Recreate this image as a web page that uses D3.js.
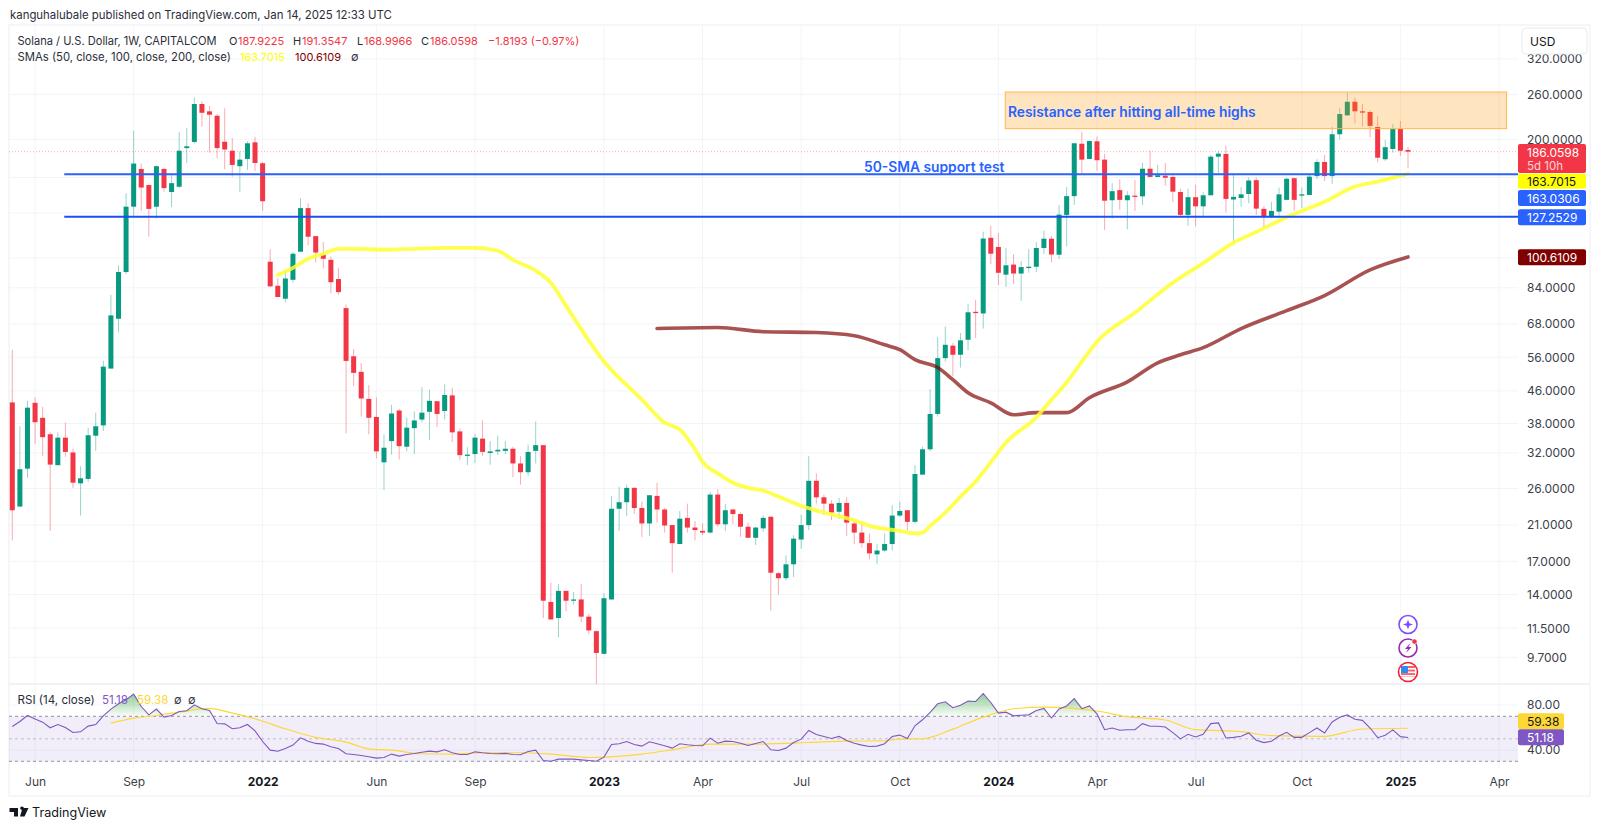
<!DOCTYPE html>
<html><head><meta charset="utf-8">
<script src="https://d3js.org/d3.v7.min.js"></script>
<style>
html,body{margin:0;padding:0;background:#fff}
svg{display:block}
text{font-family:Inter,"Noto Sans",sans-serif}
</style></head><body><div id="chart"></div>
<script>
const opens=[43.0,23.4,29.2,42.9,39.3,35.7,29.8,35.0,32.1,26.8,
27.5,35.4,37.6,52.4,70.1,92.1,134.9,168.2,153.1,134.9,
168.2,147,151.6,190,196.9,245.8,235.5,229.5,197.2,187.1,
170.9,178.3,196.5,173.9,97.8,85,78.8,88,103.7,133.8,
113.6,102,98.9,88.4,74.6,56.3,51.4,43.9,39.5,30.3,
34.3,41,33.2,37,38.9,40.7,43.3,40.9,44.8,36.3,
31.6,31.8,34.8,32,32.3,32.4,32.8,30.1,28.6,32.4,
33.5,13.4,12.2,14.3,13.5,13.6,12.3,11.3,9.9,13.6,
23.1,24,26.1,23.2,21.2,24.9,23,21,18.8,21.9,
20.7,20.3,20.1,25.1,21.1,23,22.4,20.8,19.5,20.6,
22.05,15.85,15.4,16.7,19.3,21,27.2,24.7,23.8,22.7,
23.9,21.2,20.1,18.9,17.7,18.1,18.8,22.2,22.9,21.4,
28.2,32.7,40.2,55.7,59.9,56.8,62,73,72.3,112.5,
106.6,90.7,96.2,91.3,94.3,95,106,111.9,101.9,128.6,
143.5,194.9,178.3,197.7,177.6,140.1,148.6,140.1,143.9,143.3,
168.4,160.5,161.7,160.5,147,128.6,142.6,135.2,144.2,180.7,
183.6,140.7,142,145.3,157.5,133.2,126.9,131.1,140.4,159.3,
144.5,144.5,161.3,175.2,161.3,206,230,249,235.5,234.6,
214.9,178,189,212.4,187.9225];
const highs=[58.5,37.4,43.4,44.3,41.9,36.1,36.1,38.2,32.8,29.6,
37.1,40.5,54.8,80.6,95.8,146,210.4,173.6,153.5,171.8,
169.5,162.4,209,213.4,255.6,249.7,243,231.8,239.8,201.3,
186.5,197.7,202.9,175.2,105.3,88.9,93.3,103.7,141.8,137.7,
113.8,109.7,100.9,94.4,76.2,58.7,54.1,47.6,44.3,35.7,
42.4,41.4,39.3,40.8,47,46.3,43.4,47.8,46.8,36.9,
33.1,35.8,38.7,34.3,35.4,34.3,33.2,31.4,33.6,38.5,
33.5,15,14.9,14.3,14.2,14.9,12.5,11.35,14.1,24.85,
26.3,26.6,26.2,24.1,25,26.9,23.2,21,22.8,23.8,
21.5,21.2,25.5,25.9,23.8,23.1,22.6,21.3,20.8,22.2,
22.1,15.95,17.6,19.8,22.3,31.4,28.4,25.1,24.3,24.6,
24.7,21.4,21.4,20,18.8,20,23.6,24.1,22.9,29.8,
33.2,46.5,62.9,67,60.8,64.5,76.5,78.3,116.6,120.7,
115.7,106,102.3,98.1,105.3,109.7,117.3,113.6,136.3,151.3,
196,208.9,198.4,203.1,183.6,154.8,158.4,147.7,157.8,174.5,
187.1,172.2,173.9,162.1,149.7,149.7,153.3,146.9,182.5,186.5,
192.8,162.4,151.3,160,160,135.4,138.8,150.9,160,160,
150.9,163.3,178,182.4,215,239.8,263,255.3,245.8,237.3,
228.6,199.2,218.7,222.6,191.3547];
const lows=[19.2,23.4,27.7,33.7,31.4,20.3,29.8,31.3,26.1,22.2,
27,32.4,36.4,52.4,64.8,91,127.2,131.6,113.2,125.8,
147.3,134.6,150.4,173.9,195.4,215.2,184.9,179.1,168,160.7,
147,167.2,166.2,131.8,84.5,79.6,77.1,86.6,103.7,107.6,
97.4,94.1,81.4,80.7,35.9,47.3,39.6,35.7,31,25.8,
31.7,30.8,32.3,31.8,38.3,34.5,37.2,38.9,34.1,30.7,
29.8,30.2,31.4,29.9,31.6,31.8,27.8,26.6,28,30.1,
12.2,12.1,10.9,12.7,13.2,11.9,11.1,8.3,9.85,13.6,
20.3,22.1,22.4,19.6,19.7,21.3,20.1,15.9,18.8,20.1,
19.2,19.8,20,20.8,20.3,21.1,19.6,19.5,18.7,20.2,
12.75,14,15.2,15.5,18.3,20.4,23.8,22.3,21.6,21.8,
19.7,18.8,18.4,17.2,16.7,18,18.1,22,20.4,21.2,
28.1,32.3,39.6,54.6,50.1,52.7,58.3,62.6,66.2,96.4,
85.4,84.4,85.9,77.9,91.8,92,102.3,97.4,99.3,106.9,
136.3,162.4,178.3,166.5,117.8,125.8,132.4,118.3,131.6,136.3,
160.5,160.5,152.6,138.8,127.8,120.7,120.2,127.2,144.2,163.6,
130.4,109.1,134.9,137.7,128.6,119.7,126.1,126.1,140,131.8,
133.8,144.5,158.4,156.9,154.2,200,229.7,219.6,215.2,202.3,
174.9,176.3,185,181.4,168.9966];
const closes=[22.9,29.1,41.7,38.3,35.1,29.9,35,32.2,26.9,27.6,
35.5,37.4,53,71.5,92.1,134.9,173.6,150.9,133.2,170.9,
150.4,154.8,187.1,192,245.8,233.5,230.9,190,188.4,172.2,
177.6,195.4,174.2,139.3,84.7,79.6,88.7,102.5,133.8,113.2,
103.2,99.5,86.8,81.9,54.8,51.1,44,39.3,32.3,33,
40.3,33.3,37.1,38.7,40.5,43.4,40.2,44.9,36.1,31.6,
31.7,35,32.2,32.3,32.6,32.8,30.1,28.6,32.2,33.5,
13.5,12.1,14.3,13.5,13.6,12.3,11.35,9.95,13.7,23.1,
24,26.1,23.2,21.2,25,23,20.95,18.9,21.8,20.7,
20.4,20.1,25.1,21.1,22.9,22.4,20.8,19.5,20.7,21.9,
15.9,15.4,16.7,19.4,21,27.2,24.7,23.8,22.6,23.9,
21.3,20.1,18.9,17.8,18.1,18.8,22.2,22.8,21.4,28.3,
32.7,40.2,55.7,60.2,56.8,61.8,72.8,72.6,112,102.5,
91.7,95.8,91.3,94.8,95,106,111.9,102,128.8,143.5,
195.4,177.6,198,177,139.7,147.7,140.4,144.2,143.3,168.4,
160.5,162.1,159.8,147.3,128.6,142.6,135.2,144.2,180.7,183.9,
141.2,142.9,145,157.2,133.4,127.2,131.6,145,158.8,140.4,
145,160.8,175.2,161.3,206,231.8,249,235.5,234.6,216.3,
179.6,191,212.4,187.1,186.0598];

const sma50Idx=[35,37,39,41,43,45,49,53,57,61,64,66,69,71,73,78,83,86,88,90,91,93,95,97,99,101,104,107,111,113,117,119,120,121,123,125,127,129,131,135,137,139,141,143,148,153,157,161,164,168,173,177,180,184];
const sma50Val=[90.6,94.4,99.5,102.5,105.5,105.5,104.9,105.5,106.1,106.1,104.3,98.9,92.8,86.5,75.6,54.6,43.7,38.2,36.7,32.7,30.4,28.4,26.9,26.1,25.7,24.8,23.5,22.6,21.6,20.9,20.3,20.0,20.1,20.9,22.6,24.8,27.1,30.3,34.0,39.4,43.7,48.3,54.6,61.3,72.6,86.5,97,109.3,116.4,126.9,138.8,151.8,156.2,163.7015];
const sma100Idx=[85,93,99,106,111,115,117,119,122,124,126,129,132,135,139,142,147,151,154,157,162,168,173,179,184];
const sma100Val=[66.2,66.6,65.0,64.7,63.5,60.2,58.5,55.2,52.7,49.1,45.5,42.9,40.0,40.5,40.5,44.2,48.5,54.2,56.8,59.2,66.2,73.5,80.3,93.3,100.6109];

const rsi=[61.0,65.4,70.7,67.5,64.8,59.8,62.7,60.1,55.6,56.2,61.3,62.7,70.4,76.4,81.1,84.7,89.7,78.7,71.3,76.4,
69.3,70.7,74.3,74.9,80.2,76.7,75.2,63.6,63.3,58.9,59.8,62.7,57.1,47.6,39.9,39.0,41.4,44.4,50.9,47.9,
45.9,45.3,42.9,41.4,36.7,36.1,35.2,34.0,32.8,33.4,36.4,34.6,36.1,37.0,38.1,39.0,38.4,40.2,37.6,36.1,
36.1,38.4,37.6,37.0,36.7,37.0,36.1,35.8,
38.7,39.9,30.7,30.1,31.9,31.9,31.9,31.3,30.7,30.1,33.7,45.0,45.6,47.6,45,43.5,47.3,45.6,43.8,41.7,45.6,44.7,
44.1,43.8,50.6,46.1,47.9,47.6,46.1,44.1,45.9,47.6,40.2,39.6,41.7,46.7,49.7,57.4,53.9,52.1,50.3,52.1,
48.5,46.1,44.4,43.2,43.5,45.6,52.1,53.3,50.3,61.6,66.9,73.4,81.1,82.9,77.6,79.9,83.5,83.2,90.3,82.3,
72.8,73.7,70.4,71,71.3,75.2,77,
68.5,76.5,79.2,85.7,76.8,79.2,72.1,58.1,59.6,57.6,58.1,58.1,63.5,61.1,61.1,60.5,55.5,49.9,54,51.6,54,63.5,64.1,50.7,51.3,52.2,55.2,48.7,46.6,47.8,52.5,55.8,51.3,51.3,55.5,59.6,55.2,65,69.1,71.2,67.3,66.4,59.6,51,53.1,57.9,51.9,51.18];
const rsiMaIdx=[13,16,19,22,26,29,32,36,40,44,47,50,54,58,62,67,71,76,83,87,92,98,105,110,115,117,120,124,128,132,136,143,147,152,156,162,166,173,178,184];
const rsiMaVal=[63.9,68.4,70.7,73.7,77,72.8,67.8,58.9,51.2,47.0,41.1,39.9,36.7,36.4,37.6,37.6,36.4,33.4,36.4,40.2,45.3,45.3,46.7,47.9,48.2,49.7,50,58.6,69.3,76.7,78.1,74.7,69.7,66.7,58.1,56.4,52.8,52.2,58.7,59.38];

const priceGridTicks=[320,260,200,160,130,100,84,68,56,46,38,32,26,21,17,14,11.5,9.7];
const priceLabelTicks=[320,260,200,84,68,56,46,38,32,26,21,17,14,11.5,9.7];
const rsiTicks=[80,40];
const rsiLevels=[70,50,30];
const timeIdx=[3,16,33,48,61,78,91,104,117,130,143,156,170,183,196];
const timeLabels=["Jun","Sep","2022","Jun","Sep","2023","Apr","Jul","Oct","2024","Apr","Jul","Oct","2025","Apr"];
const lastPrice=186.0598, support1=163.0306, support2=127.2529, sma50Last=163.7015, sma100Last=100.6109;
const lineStartIdx=6.85;
const zoneTop=263.6, zoneBottom=212.8, zoneStartIdx=130.9, zoneEndIdx=197;

const W=1600,H=829,paneL=9,paneR=1518,outerR=1590,paneT=25,paneB=684,outerB=796;
const svg=d3.select("#chart").append("svg").attr("width",W).attr("height",H).attr("viewBox",`0 0 ${W} ${H}`);
const x=d3.scaleLinear().domain([0,184]).range([12.3,1408]);
const y=d3.scaleLog().domain([200,9.7]).range([139.3,657.3]);
const yR=d3.scaleLinear().domain([70,30]).range([716.3,761.3]);
const defs=svg.append("defs");
defs.append("clipPath").attr("id","pane").append("rect").attr("x",paneL).attr("y",paneT).attr("width",paneR-paneL).attr("height",paneB-paneT);
defs.append("clipPath").attr("id","above70").append("rect").attr("x",paneL).attr("y",paneT).attr("width",paneR-paneL).attr("height",yR(70)-paneT);
const grad=defs.append("linearGradient").attr("id","ob").attr("gradientUnits","userSpaceOnUse").attr("x1",0).attr("x2",0).attr("y1",yR(90)).attr("y2",yR(70));
grad.append("stop").attr("offset",0).attr("stop-color","#4caf50").attr("stop-opacity",.62);
grad.append("stop").attr("offset",1).attr("stop-color","#4caf50").attr("stop-opacity",.03);

// frame and grid
const gridC="#f3f4f6";
const g0=svg.append("g");
g0.selectAll("line.h").data(priceGridTicks.filter(d=>y(d)>paneT)).join("line").attr("x1",paneL).attr("x2",paneR).attr("y1",d=>y(d)).attr("y2",d=>y(d)).attr("stroke",gridC);
rsiTicks.forEach(t=>g0.append("line").attr("x1",paneL).attr("x2",paneR).attr("y1",yR(t)).attr("y2",yR(t)).attr("stroke",gridC));
timeIdx.forEach(i=>{
  g0.append("line").attr("x1",x(i)).attr("x2",x(i)).attr("y1",paneT).attr("y2",paneB).attr("stroke",gridC);
  g0.append("line").attr("x1",x(i)).attr("x2",x(i)).attr("y1",paneB).attr("y2",769).attr("stroke",gridC);
});
svg.append("rect").attr("x",paneL).attr("y",paneT).attr("width",outerR-paneL).attr("height",outerB-paneT).attr("fill","none").attr("stroke","#eceef2");
svg.append("line").attr("x1",paneL).attr("x2",outerR).attr("y1",paneB).attr("y2",paneB).attr("stroke","#e4e6ef");

// last price dotted
svg.append("line").attr("x1",paneL).attr("x2",paneR).attr("y1",y(lastPrice)).attr("y2",y(lastPrice)).attr("stroke","#F23645").attr("stroke-opacity",.4).attr("stroke-dasharray","1 2");

// candles
const candles=closes.map((c,i)=>({i,o:opens[i],h:highs[i],l:lows[i],c}));
const col=d=>d.c>=d.o?"#089981":"#F23645";
const gc=svg.append("g").attr("clip-path","url(#pane)");
gc.selectAll("line.w").data(candles).join("line").attr("x1",d=>x(d.i)).attr("x2",d=>x(d.i)).attr("y1",d=>y(d.h)).attr("y2",d=>y(d.l)).attr("stroke",col).attr("stroke-opacity",.42).attr("stroke-width",1);
gc.selectAll("rect.b").data(candles).join("rect").attr("x",d=>x(d.i)-2.5).attr("width",5).attr("y",d=>Math.min(y(d.o),y(d.c))).attr("height",d=>Math.max(1.3,Math.abs(y(d.o)-y(d.c)))).attr("fill",col);

// SMAs
const lineSma=d3.line().x(d=>x(d[0])).y(d=>y(d[1])).curve(d3.curveMonotoneX);
gc.append("path").attr("d",lineSma(sma100Idx.map((d,k)=>[d,sma100Val[k]]))).attr("fill","none").attr("stroke","#800000").attr("stroke-opacity",.68).attr("stroke-width",3.6).attr("stroke-linecap","round");
gc.append("path").attr("d",lineSma(sma50Idx.map((d,k)=>[d,sma50Val[k]]))).attr("fill","none").attr("stroke","#ffff30").attr("stroke-opacity",.85).attr("stroke-width",3.8).attr("stroke-linecap","round");

// annotations
svg.append("rect").attr("x",x(zoneStartIdx)).attr("width",x(zoneEndIdx)-x(zoneStartIdx)).attr("y",y(zoneTop)).attr("height",y(zoneBottom)-y(zoneTop)).attr("fill","#ff9800").attr("fill-opacity",.25).attr("stroke","#ffb74d").attr("stroke-width",1);
svg.append("line").attr("x1",x(lineStartIdx)).attr("x2",paneR).attr("y1",y(support1)).attr("y2",y(support1)).attr("stroke","#2962FF").attr("stroke-width",2);
svg.append("line").attr("x1",x(lineStartIdx)).attr("x2",paneR).attr("y1",y(support2)).attr("y2",y(support2)).attr("stroke","#1a4ff0").attr("stroke-width",2);
svg.append("text").attr("x",1008).attr("y",116.5).attr("font-size",13.8).attr("font-weight",600).attr("fill","#2962FF").text("Resistance after hitting all-time highs");
svg.append("text").attr("x",864).attr("y",172).attr("font-size",13.8).attr("font-weight",600).attr("fill","#2962FF").text("50-SMA support test");

// RSI pane
svg.append("rect").attr("x",paneL).attr("width",paneR-paneL).attr("y",yR(70)).attr("height",yR(30)-yR(70)).attr("fill","#7E57C2").attr("fill-opacity",.1);
rsiLevels.forEach((l,k)=>svg.append("line").attr("x1",paneL).attr("x2",paneR).attr("y1",yR(l)).attr("y2",yR(l)).attr("stroke","#787B86").attr("stroke-opacity",k==1?.4:.8).attr("stroke-dasharray","3 3"));
const area=d3.area().x((d,i)=>x(i)).y0(yR(70)).y1(d=>yR(d));
svg.append("path").attr("d",area(rsi)).attr("fill","url(#ob)").attr("clip-path","url(#above70)");
svg.append("path").attr("d",d3.line().x(d=>x(d[0])).y(d=>yR(d[1])).curve(d3.curveMonotoneX)(rsiMaIdx.map((d,k)=>[d,rsiMaVal[k]]))).attr("fill","none").attr("stroke","#FDD835").attr("stroke-width",1.2);
svg.append("path").attr("d",d3.line().x((d,i)=>x(i)).y(d=>yR(d))(rsi)).attr("fill","none").attr("stroke","#7E57C2").attr("stroke-width",1.1);

// axes
const txt="#3b3f4a";
const ay=svg.append("g").attr("transform",`translate(1527,0)`).call(d3.axisRight(y).tickValues(priceLabelTicks).tickFormat(d=>d.toFixed(4)).tickSize(0).tickPadding(0));
const ar=svg.append("g").attr("transform",`translate(1527,0)`).call(d3.axisRight(yR).tickValues(rsiTicks).tickFormat(d=>d.toFixed(2)).tickSize(0).tickPadding(0));
const ax=svg.append("g").attr("transform",`translate(0,773)`).call(d3.axisBottom(x).tickValues(timeIdx).tickFormat((d,k)=>timeLabels[k]).tickSize(0).tickPadding(4));
[ay,ar,ax].forEach(a=>{a.select(".domain").remove();a.selectAll("text").attr("font-family","Inter,sans-serif").attr("font-size",12).attr("fill",txt);});
ax.selectAll("text").filter((d,k)=>/^20/.test(timeLabels[k])).attr("font-weight",700).attr("fill","#131722");

// price labels
function tag(yc,h,bg,fg,label,w){
  svg.append("rect").attr("x",1518).attr("y",yc-h/2).attr("width",w||68).attr("height",h).attr("rx",2).attr("fill",bg);
  svg.append("text").attr("x",1527).attr("y",yc+4.5).attr("font-size",12).attr("fill",fg).text(label);
}
svg.append("rect").attr("x",1518).attr("y",144).attr("width",68).attr("height",29).attr("rx",2).attr("fill","#F23645");
svg.append("text").attr("x",1527).attr("y",156.5).attr("font-size",12).attr("fill","#fff").text(lastPrice.toFixed(4));
svg.append("text").attr("x",1527).attr("y",169.5).attr("font-size",11.5).attr("fill","#fff").attr("fill-opacity",.8).text("5d 10h");
tag(181.3,15,"#FFFF00","#131722",sma50Last.toFixed(4));
tag(198,16,"#2962FF","#fff",support1.toFixed(4));
tag(217.2,16,"#2962FF","#fff",support2.toFixed(4));
tag(257.3,16,"#800000","#fff",sma100Last.toFixed(4));
tag(721.3,16,"#FDD835","#131722","59.38",46);
tag(737.2,16,"#7E57C2","#fff","51.18",46);

// USD button
svg.append("rect").attr("x",1522).attr("y",28).attr("width",65).attr("height",26).attr("rx",4).attr("fill","#fff").attr("stroke","#e8eaf0");
svg.append("text").attr("x",1530).attr("y",45.5).attr("font-size",12).attr("fill","#131722").text("USD");

// header text
const hdr=(xx,yy,s,c,sz)=>svg.append("text").attr("x",xx).attr("y",yy).attr("font-size",sz||11).attr("fill",c||"#2a2e39").text(s);
hdr(10,19,"kanguhalubale published on TradingView.com, Jan 14, 2025 12:33 UTC","#2a2e39",11.4);
const red="#F23645";
hdr(17.5,45,"Solana / U.S. Dollar, 1W, CAPITALCOM","#2a2e39",11.1);
hdr(229,45,"O");hdr(238,45,"187.9225",red);
hdr(293,45,"H");hdr(302,45,"191.3547",red);
hdr(357,45,"L");hdr(364,45,"168.9966",red);
hdr(421,45,"C");hdr(430,45,"186.0598",red);
hdr(488,45,"−1.8193 (−0.97%)",red);
hdr(17.5,61,"SMAs (50, close, 100, close, 200, close)","#2a2e39",11.3);
hdr(240,61,"163.7015","#FFFF00");
hdr(295,61,"100.6109","#800000");
hdr(351,61,"∅","#2a2e39");
hdr(17.5,704,"RSI (14, close)","#2a2e39",11.6);
hdr(102,704,"51.18","#7E57C2",11.6);
hdr(137,704,"59.38","#FDD835",11.6);
hdr(174,704,"∅","#2a2e39");hdr(188,704,"∅","#2a2e39");

// event icons
const ic=svg.append("g");
const ix=x(184);
ic.append("circle").attr("cx",ix).attr("cy",624.5).attr("r",9).attr("fill","#fff").attr("stroke","#7c4dff").attr("stroke-width",1.6);
ic.append("path").attr("transform",`translate(${ix},624.5)`).attr("d","M0,-5 L1.3,-1.3 L5,0 L1.3,1.3 L0,5 L-1.3,1.3 L-5,0 L-1.3,-1.3 Z").attr("fill","#7c4dff");
ic.append("circle").attr("cx",ix).attr("cy",648).attr("r",9).attr("fill","#fff").attr("stroke","#9c27b0").attr("stroke-width",1.6);
ic.append("path").attr("transform",`translate(${ix},648)`).attr("d","M2.5,-5 L-3,1 L0,1 L-2,5 L3.5,-1 L0.5,-1 Z").attr("fill","#9c27b0");
ic.append("circle").attr("cx",ix+6.5).attr("cy",641.5).attr("r",2.6).attr("fill","#F23645").attr("stroke","#fff").attr("stroke-width",.6);
ic.append("circle").attr("cx",ix).attr("cy",672).attr("r",9.5).attr("fill","#fff").attr("stroke","#f0212f").attr("stroke-width",1.6);
ic.append("rect").attr("x",ix-7).attr("y",666).attr("width",14).attr("height",11).attr("fill","#f4626d");
ic.append("rect").attr("x",ix-7).attr("y",668).attr("width",14).attr("height",1.6).attr("fill","#fff");
ic.append("rect").attr("x",ix-7).attr("y",671.5).attr("width",14).attr("height",1.6).attr("fill","#fff");
ic.append("rect").attr("x",ix-7).attr("y",675).attr("width",14).attr("height",1.6).attr("fill","#fff");
ic.append("rect").attr("x",ix-7).attr("y",666).attr("width",7).attr("height",7).attr("fill","#2f8bf0");

// TradingView logo
svg.append("path").attr("fill","#131722").attr("d","M9.5,808 H18 V816.5 H14 V812 H9.5 Z M22,810 a1.8,1.8 0 1,1 0.01,0 Z M22.5,808 H28.5 L24.5,816.5 H20 Z");
svg.append("text").attr("x",32).attr("y",817).attr("font-size",12.6).attr("fill","#131722").text("TradingView");
</script></body></html>
